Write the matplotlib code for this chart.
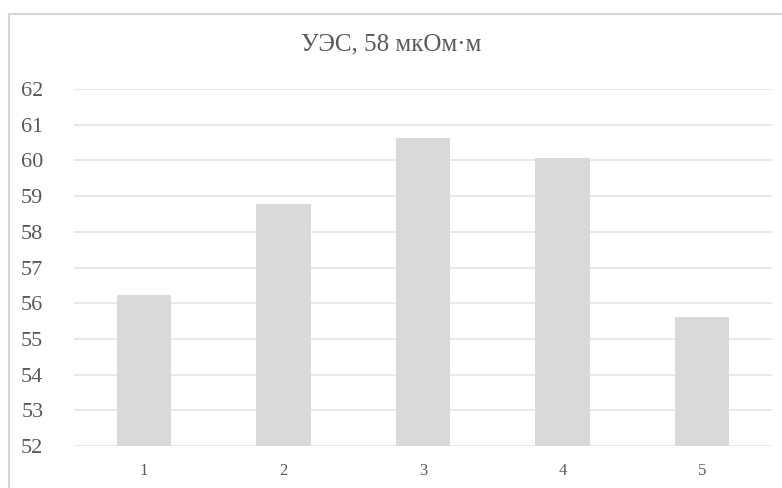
import matplotlib.pyplot as plt
from matplotlib.lines import Line2D

# data
samples = ['1', '2', '3', '4', '5']
resistivity = [56.23, 58.78, 60.64, 60.07, 55.62]
y_ticks = list(range(52, 63))

plt.rcParams['font.family'] = ['Liberation Serif', 'DejaVu Serif']
text_c = '#595959'
bar_c = '#d9d9d9'
grid_c = '#e4e4e4'

fig = plt.figure(figsize=(7.82, 4.88), dpi=100)
ax = fig.add_axes([0.0946, 0.086, 0.8924, 0.7316])

x = list(range(len(samples)))
ax.bar(x, resistivity, width=0.39, color=bar_c, edgecolor='none', zorder=2)

ax.set_ylim(52, 62)
ax.set_xlim(-0.5, len(samples) - 0.5)
ax.set_yticks(y_ticks)
ax.set_xticks(x)
ax.set_xticklabels(samples)
ax.yaxis.grid(True, color=grid_c, linewidth=1.2, zorder=0)
ax.set_axisbelow(True)
for s in ax.spines.values():
    s.set_visible(False)
ax.tick_params(axis='both', length=0, colors=text_c)
ax.tick_params(axis='y', labelsize=16, pad=22)
ax.tick_params(axis='x', labelsize=12, pad=12)

fig.text(0.5, 0.908, 'УЭС, 58 мкОм·м', ha='center', va='center',
         fontsize=18, color=text_c)

# outer chart frame (left and top edges visible)
fig.add_artist(Line2D([9 / 782, 9 / 782], [0, 1 - 14 / 488], color='#d6d6d6',
                      linewidth=1.5, transform=fig.transFigure))
fig.add_artist(Line2D([9 / 782, 1], [1 - 14 / 488, 1 - 14 / 488], color='#d6d6d6',
                      linewidth=1.5, transform=fig.transFigure))

fig.savefig('out.png', dpi=100)
